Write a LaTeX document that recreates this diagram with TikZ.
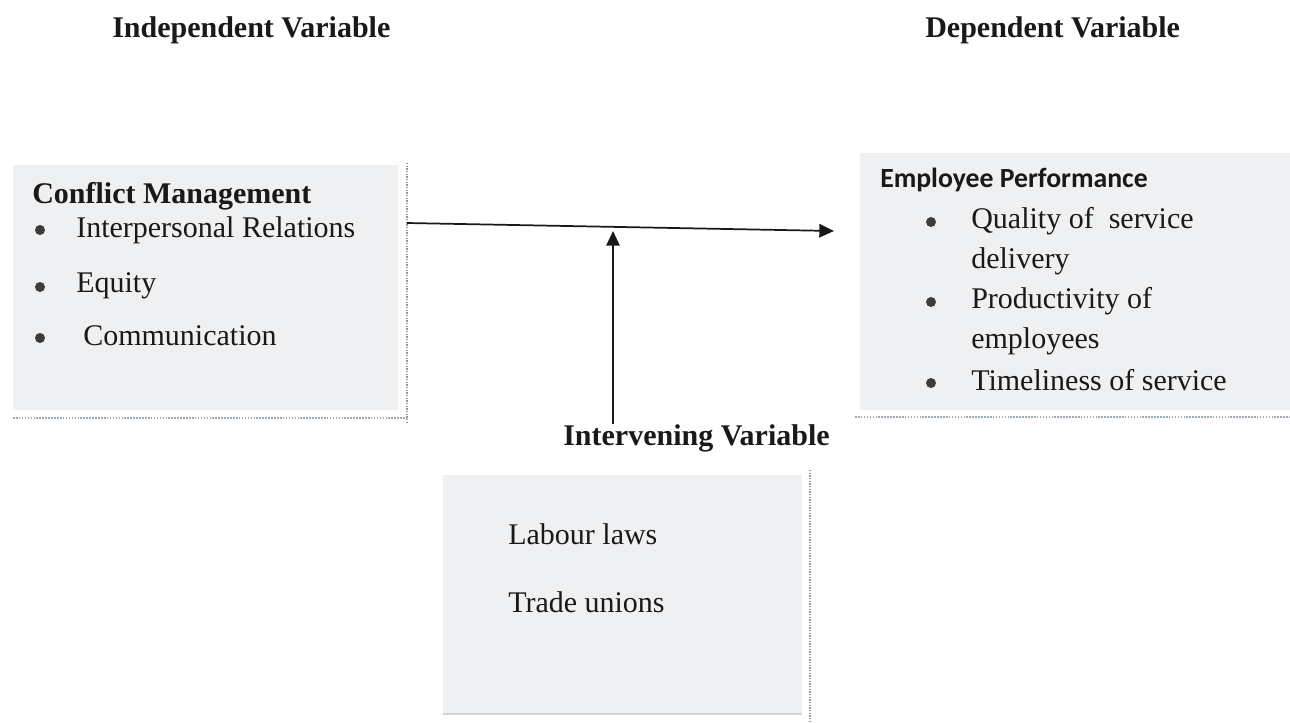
\documentclass[tikz,border=0pt]{standalone}
\usepackage{fontspec}
\setmainfont{Liberation Serif}
\newfontfamily\calibfont{Carlito}
\usetikzlibrary{arrows.meta,fit}
\definecolor{boxfill}{RGB}{239,240,242}
\definecolor{shadowline}{RGB}{160,170,180}
\definecolor{edgeline}{RGB}{150,150,150}
\definecolor{inkc}{RGB}{25,25,25}
\definecolor{bulc}{RGB}{60,60,60}
\begin{document}
\begin{tikzpicture}[x=0.75pt,y=-0.75pt,
  txt/.style={anchor=base west,inner sep=0pt,text=inkc,font=\fontsize{22.5}{27}\selectfont},
  ttl/.style={txt,font=\fontsize{22.5}{27}\selectfont\bfseries},
  ctitle/.style={txt,font=\fontsize{20.8}{24}\selectfont\calibfont\bfseries},
  boxstyle/.style={fill=boxfill,draw=none,inner sep=0pt},
  bul/.style={circle,fill=bulc,inner sep=0pt,minimum size=7.5pt},
  conn/.style={draw=inkc,line width=1.3pt,-{Triangle[length=11pt,width=10pt]}},
  shadowh/.style={draw=shadowline,line width=1.2pt,densely dotted},
  shadowv/.style={draw=edgeline,line width=1pt,densely dotted}]
\useasboundingbox (0,0) rectangle (1290,722);

% titles
\node[ttl] (indep) at (112,37) {Independent Variable};
\node[ttl] (dep) at (925,37) {Dependent Variable};

% left box
\node[boxstyle,fit={(13,165) (398,410)}] (cm) {};
\draw[shadowh] (13,418) -- (407,418);
\draw[shadowv] (407,163) -- (407,423);
\node[ttl] (cmt) at (32,203) {Conflict Management};
\node[bul] (b1) at (40,230) {};
\node[txt] (cm1) at (76,237) {Interpersonal Relations};
\node[bul] (b2) at (40,287) {};
\node[txt] (cm2) at (76,292) {Equity};
\node[bul] (b3) at (40,338) {};
\node[txt] (cm3) at (83,345) {Communication};

% right box
\node[boxstyle,fit={(860,153) (1290,410)}] (ep) {};
\draw[shadowh] (855,417) -- (1290,417);
\node[ctitle] (ept) at (880,187) {Employee Performance};
\node[bul] (e1) at (931,222) {};
\node[txt] (ep1) at (971,228) {Quality of\ \ service};
\node[txt] (ep1b) at (971,268) {delivery};
\node[bul] (e2) at (931,302) {};
\node[txt] (ep2) at (971,308) {Productivity of};
\node[txt] (ep2b) at (971,348) {employees};
\node[bul] (e3) at (931,383) {};
\node[txt] (ep3) at (971,390) {Timeliness of service};

% intervening
\node[ttl] (ivt) at (563,445) {Intervening Variable};
\node[boxstyle,fit={(443,475) (802,713)}] (iv) {};
\draw[shadowv] (810,470) -- (810,722);
\draw[draw=shadowline!50,line width=0.8pt] (443,714) -- (802,714);
\node[txt] (iv1) at (508,544) {Labour laws};
\node[txt] (iv2) at (508,612) {Trade unions};

% connectors
\coordinate (hstart) at (407,223);
\coordinate (hend) at (834,231);
\coordinate (vstart) at (613,424);
\coordinate (vend) at (613,231);
\draw[conn] (hstart) -- (hend);
\draw[conn] (vstart) -- (vend);
\end{tikzpicture}
\end{document}
